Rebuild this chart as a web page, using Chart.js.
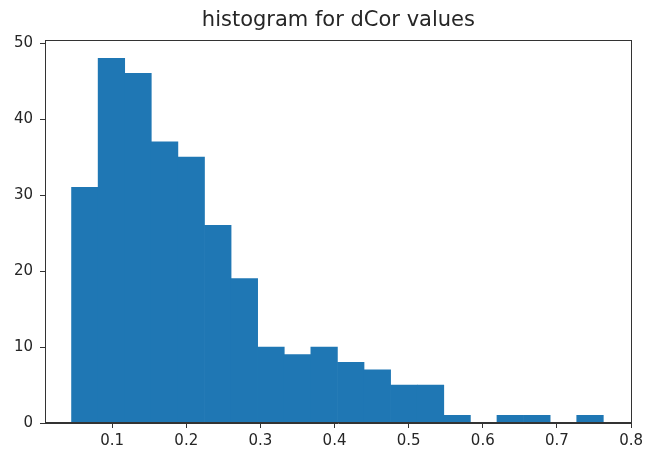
<!DOCTYPE html>
<html>
<head>
<meta charset="utf-8">
<script src="https://cdn.jsdelivr.net/npm/chart.js@4"></script>
<style>
  html, body { margin: 0; padding: 0; background: #fff; }
  #wrap { width: 647px; height: 453px; }
</style>
</head>
<body>
<div id="wrap"><canvas id="chart" width="647" height="453"></canvas></div>
<script>
// histogram bin edges (21 edges -> 20 bins) and counts
const binEdges = [0.0452, 0.0811, 0.1169, 0.1528, 0.1887, 0.2246, 0.2604, 0.2963, 0.3322, 0.3680,
                  0.4039, 0.4398, 0.4756, 0.5115, 0.5474, 0.5833, 0.6191, 0.6550, 0.6909, 0.7267, 0.7626];
const counts = [31, 48, 46, 37, 35, 26, 19, 10, 9, 10, 8, 7, 5, 5, 1, 0, 1, 1, 0, 1];
const xTicks = [0.1, 0.2, 0.3, 0.4, 0.5, 0.6, 0.7, 0.8];
const yTicks = [0, 10, 20, 30, 40, 50];

const bars = counts.map((c, i) => ({ x: (binEdges[i] + binEdges[i + 1]) / 2, y: c }));

const TXT = '#262626';
const AX = '#333';

// box around the plot area like matplotlib spines
const frame = {
  id: 'frame',
  afterDatasetsDraw(chart) {
    const a = chart.chartArea, ctx = chart.ctx;
    ctx.save();
    ctx.strokeStyle = AX;
    ctx.lineWidth = 1;
    ctx.strokeRect(Math.round(a.left) + 0.5, Math.round(a.top) + 0.5,
                   Math.round(a.right - a.left) - 1, Math.round(a.bottom - a.top) - 1);
    ctx.restore();
  }
};

new Chart(document.getElementById('chart'), {
  type: 'bar',
  data: {
    datasets: [{
      data: bars,
      backgroundColor: '#1f77b4',
      borderWidth: 0,
      barPercentage: 1,
      categoryPercentage: 1
    }]
  },
  options: {
    responsive: false,
    animation: false,
    layout: { padding: { left: 0, right: 14, top: 0, bottom: 0 } },
    plugins: {
      legend: { display: false },
      tooltip: { enabled: false },
      title: {
        display: true,
        text: 'histogram for dCor values',
        fullSize: false,
        color: TXT,
        font: { family: 'DejaVu Sans', size: 21, weight: 'normal' },
        padding: { top: 8, bottom: 6.8 }
      }
    },
    scales: {
      x: {
        type: 'linear',
        min: 0.0094,
        max: 0.801,
        offset: false,
        afterBuildTicks: s => { s.ticks = xTicks.map(v => ({ value: v })); },
        afterFit: s => { s.height = 30; },
        grid: { offset: false, drawOnChartArea: false, tickLength: 5, color: AX, tickColor: AX },
        border: { color: AX },
        ticks: {
          color: TXT, padding: 4, maxRotation: 0,
          font: { family: 'DejaVu Sans', size: 15 },
          callback: v => v.toFixed(1)
        }
      },
      y: {
        min: 0,
        max: 50.4,
        afterBuildTicks: s => { s.ticks = yTicks.map(v => ({ value: v })); },
        afterFit: s => { s.width = 45; },
        grid: { drawOnChartArea: false, tickLength: 5, color: AX, tickColor: AX },
        border: { color: AX },
        ticks: {
          color: TXT, padding: 7,
          font: { family: 'DejaVu Sans', size: 15 }
        }
      }
    }
  },
  plugins: [frame]
});
</script>
</body>
</html>
